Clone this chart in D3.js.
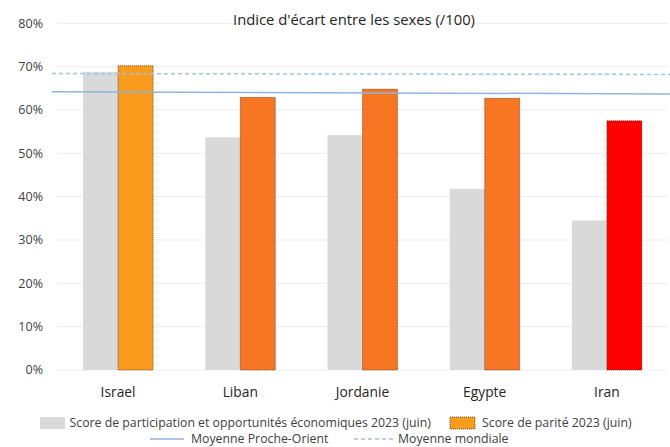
<!DOCTYPE html>
<html><head><meta charset="utf-8">
<script src="https://cdn.jsdelivr.net/npm/d3@7"></script>
<style>body{margin:0;background:#fff}svg{display:block}text{font-family:"Open Sans","Noto Sans",sans-serif}</style>
</head><body><svg id="c" width="670" height="447"></svg>
<script>
const categories = ["Israel", "Liban", "Jordanie", "Egypte", "Iran"];
const econScores = [68.8, 53.7, 54.2, 41.8, 34.5];
const parityScores = [70.2, 62.9, 64.8, 62.7, 57.5];
const parityColors = ["#F99B1C", "#F77624", "#F77624", "#F77624", "#FF0000"];
const moyenneProcheOrient = [64.2, 63.7]; // start, end
const moyenneMondiale = [68.4, 68.2];     // start, end
const yTicks = [0, 10, 20, 30, 40, 50, 60, 70, 80];
const seriesNames = ["Score de participation et opportunités économiques 2023 (juin)", "Score de parité 2023 (juin)"];
const lineNames = ["Moyenne Proche-Orient", "Moyenne mondiale"];
const title = "Indice d'écart entre les sexes (/100)";

(function () {
const svg = d3.select("#c");
const pLeft = 57, pRight = 668, pTop = 23.3, pBottom = 370;
const y = d3.scaleLinear().domain([0, 80]).range([pBottom, pTop]);
const x0 = d3.scaleBand().domain(categories).range([pLeft, pRight]).paddingInner(0).paddingOuter(0);
const x1 = d3.scaleBand().domain(["econ", "parite"]).range([0, x0.bandwidth()]).paddingInner(0).paddingOuter(0.746);

svg.append("g").selectAll("line").data(yTicks).join("line")
  .attr("x1", pLeft).attr("x2", pRight)
  .attr("y1", d => y(d)).attr("y2", d => y(d))
  .attr("stroke", "#EDEDED").attr("stroke-width", 1);

svg.append("g").selectAll("text").data(yTicks).join("text")
  .attr("x", 43).attr("y", d => y(d)).attr("dy", "0.35em")
  .attr("text-anchor", "end").attr("font-size", 12.5).attr("fill", "#404040")
  .text(d => d + "%");

const g = svg.append("g");
g.selectAll("rect.econ").data(categories).join("rect").attr("class", "econ")
  .attr("x", d => x0(d) + x1("econ")).attr("width", x1.bandwidth())
  .attr("y", (d, i) => y(econScores[i])).attr("height", (d, i) => y(0) - y(econScores[i]))
  .attr("fill", "#D9D9D9");
g.selectAll("rect.par").data(categories).join("rect").attr("class", "par")
  .attr("x", d => x0(d) + x1("parite")).attr("width", x1.bandwidth())
  .attr("y", (d, i) => y(parityScores[i])).attr("height", (d, i) => y(0) - y(parityScores[i]))
  .attr("fill", (d, i) => parityColors[i])
  .attr("stroke", "#4a3320").attr("stroke-width", 0.8).attr("stroke-dasharray", "1,1");

const lx0 = 52, lx1 = 670;
svg.append("line").attr("x1", lx0).attr("x2", lx1)
  .attr("y1", y(moyenneMondiale[0])).attr("y2", y(moyenneMondiale[1]))
  .attr("stroke", "#9DC3E6").attr("stroke-width", 1.5).attr("stroke-dasharray", "4,3");
svg.append("line").attr("x1", lx0).attr("x2", lx1)
  .attr("y1", y(moyenneProcheOrient[0])).attr("y2", y(moyenneProcheOrient[1]))
  .attr("stroke", "#8FB4E0").attr("stroke-width", 1.5);

svg.append("g").selectAll("text").data(categories).join("text")
  .attr("x", d => x0(d) + x0.bandwidth() / 2).attr("y", 392).attr("dy", "0.35em")
  .attr("text-anchor", "middle").attr("font-size", 13.8).attr("fill", "#262626")
  .text(d => d);

svg.append("text").attr("x", 354).attr("y", 20).attr("dy", "0.35em")
  .attr("text-anchor", "middle").attr("font-size", 14.8).attr("fill", "#262626").text(title);

const lg = svg.append("g").attr("font-size", 12.3).attr("fill", "#404040");
lg.append("rect").attr("x", 40).attr("y", 417).attr("width", 25).attr("height", 12).attr("fill", "#D9D9D9");
lg.append("text").attr("x", 69.5).attr("y", 423).attr("dy", "0.35em").text(seriesNames[0]);
lg.append("rect").attr("x", 450).attr("y", 417).attr("width", 25).attr("height", 12).attr("fill", "#F99B1C")
  .attr("stroke", "#4a3320").attr("stroke-width", 0.8).attr("stroke-dasharray", "1,1");
lg.append("text").attr("x", 482).attr("y", 423).attr("dy", "0.35em").text(seriesNames[1]);
lg.append("line").attr("x1", 150).attr("x2", 184).attr("y1", 439).attr("y2", 439).attr("stroke", "#8FB4E0").attr("stroke-width", 1.5);
lg.append("text").attr("x", 191).attr("y", 439).attr("dy", "0.35em").text(lineNames[0]);
lg.append("line").attr("x1", 354).attr("x2", 393).attr("y1", 439).attr("y2", 439).attr("stroke", "#9DC3E6").attr("stroke-width", 1.5).attr("stroke-dasharray", "4,3");
lg.append("text").attr("x", 398).attr("y", 439).attr("dy", "0.35em").text(lineNames[1]);
})();
</script></body></html>
